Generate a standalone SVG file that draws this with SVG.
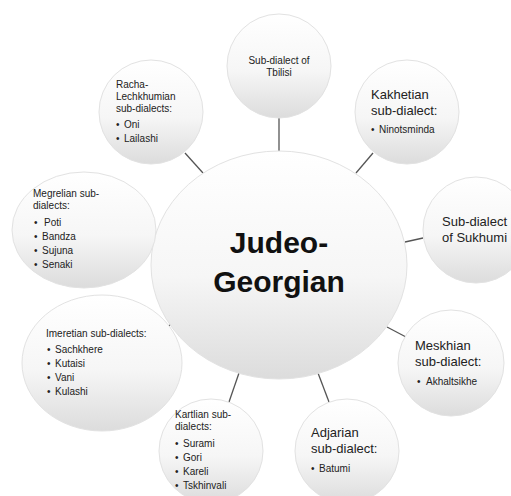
<svg xmlns="http://www.w3.org/2000/svg" width="511" height="496" viewBox="0 0 511 496">
<defs>
<linearGradient id="g" x1="0" y1="0" x2="0" y2="1">
<stop offset="0" stop-color="#ffffff"/>
<stop offset="0.55" stop-color="#f6f6f6"/>
<stop offset="1" stop-color="#dcdcdc"/>
</linearGradient>
</defs>
<style>
.n{fill:url(#g);stroke:#e2e2e2;stroke-width:1}
.c{stroke:#555555;stroke-width:1.3;fill:none}
text{font-family:"Liberation Sans",Arial,sans-serif;fill:#222222}
.s{font-size:10px}
.m{font-size:13px}
.b{font-size:30px;font-weight:bold;fill:#111111}
.mid{text-anchor:middle}
</style>
<rect width="511" height="496" fill="#ffffff"/>
<g id="connectors">
<line class="c" x1="279" y1="118" x2="279" y2="151"/>
<line class="c" x1="185" y1="153" x2="203" y2="173"/>
<line class="c" x1="373" y1="153" x2="356" y2="173"/>
<line class="c" x1="423" y1="238" x2="405" y2="242"/>
<line class="c" x1="387" y1="327" x2="406" y2="337"/>
<line class="c" x1="318" y1="373" x2="329" y2="402"/>
<line class="c" x1="239" y1="373" x2="229" y2="402"/>
<line class="c" x1="168" y1="327" x2="171" y2="324"/>
</g>
<g id="center">
<ellipse class="n" cx="279" cy="265" rx="128" ry="114"/>
<text class="b mid" x="279" y="253">Judeo-</text>
<text class="b mid" x="279" y="292">Georgian</text>
</g>
<g id="tbilisi">
<circle class="n" cx="279" cy="66" r="52"/>
<text class="s mid" x="279" y="64">Sub-dialect of</text>
<text class="s mid" x="279" y="76">Tbilisi</text>
</g>
<g id="racha">
<circle class="n" cx="151" cy="112" r="52"/>
<text class="s" x="116" y="88">Racha-</text>
<text class="s" x="116" y="100">Lechkhumian</text>
<text class="s" x="116" y="112">sub-dialects:</text>
<text class="s" y="128"><tspan x="116">•</tspan><tspan x="124">Oni</tspan></text>
<text class="s" y="142"><tspan x="116">•</tspan><tspan x="124">Lailashi</tspan></text>
</g>
<g id="kakhetian">
<circle class="n" cx="407" cy="112" r="52"/>
<text class="m" x="371" y="99">Kakhetian</text>
<text class="m" x="371" y="115">sub-dialect:</text>
<text class="s" y="133"><tspan x="371">•</tspan><tspan x="379">Ninotsminda</tspan></text>
</g>
<g id="sukhumi">
<circle class="n" cx="476" cy="230" r="53"/>
<text class="m" x="442" y="226">Sub-dialect</text>
<text class="m" x="442" y="242">of Sukhumi</text>
</g>
<g id="megrelian">
<ellipse class="n" cx="84" cy="230" rx="72" ry="58"/>
<text class="s" x="33" y="197">Megrelian sub-</text>
<text class="s" x="33" y="209">dialects:</text>
<text class="s" y="226"><tspan x="34">•</tspan><tspan x="44">Poti</tspan></text>
<text class="s" y="240"><tspan x="34">•</tspan><tspan x="42">Bandza</tspan></text>
<text class="s" y="254"><tspan x="34">•</tspan><tspan x="42">Sujuna</tspan></text>
<text class="s" y="268"><tspan x="34">•</tspan><tspan x="42">Senaki</tspan></text>
</g>
<g id="imeretian">
<ellipse class="n" cx="102" cy="363" rx="80" ry="68"/>
<text class="s" x="46" y="337">Imeretian sub-dialects:</text>
<text class="s" y="353"><tspan x="47">•</tspan><tspan x="55">Sachkhere</tspan></text>
<text class="s" y="367"><tspan x="47">•</tspan><tspan x="55">Kutaisi</tspan></text>
<text class="s" y="381"><tspan x="47">•</tspan><tspan x="55">Vani</tspan></text>
<text class="s" y="395"><tspan x="47">•</tspan><tspan x="55">Kulashi</tspan></text>
</g>
<g id="meskhian">
<circle class="n" cx="451" cy="363" r="53"/>
<text class="m" x="415" y="350">Meskhian</text>
<text class="m" x="415" y="366">sub-dialect:</text>
<text class="s" y="385"><tspan x="417">•</tspan><tspan x="426">Akhaltsikhe</tspan></text>
</g>
<g id="kartlian">
<circle class="n" cx="211" cy="451" r="52"/>
<text class="s" x="175" y="418">Kartlian sub-</text>
<text class="s" x="175" y="430">dialects:</text>
<text class="s" y="447"><tspan x="175">•</tspan><tspan x="183">Surami</tspan></text>
<text class="s" y="461"><tspan x="175">•</tspan><tspan x="183">Gori</tspan></text>
<text class="s" y="475"><tspan x="175">•</tspan><tspan x="183">Kareli</tspan></text>
<text class="s" y="489"><tspan x="175">•</tspan><tspan x="183">Tskhinvali</tspan></text>
</g>
<g id="adjarian">
<circle class="n" cx="347" cy="451" r="52"/>
<text class="m" x="311" y="437">Adjarian</text>
<text class="m" x="311" y="453">sub-dialect:</text>
<text class="s" y="472"><tspan x="311">•</tspan><tspan x="319">Batumi</tspan></text>
</g>
</svg>
